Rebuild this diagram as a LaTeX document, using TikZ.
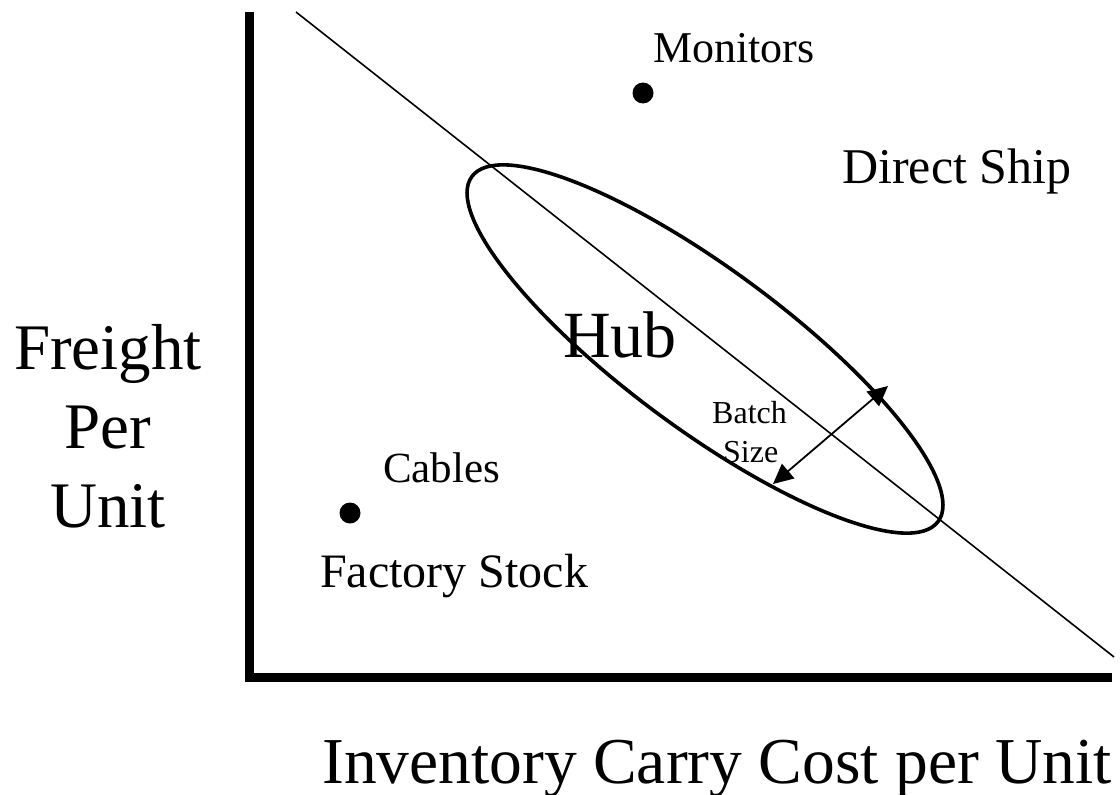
\documentclass[tikz,border=0pt]{standalone}
\usepackage{fontspec}
\setmainfont{Liberation Serif}
\usetikzlibrary{arrows.meta}
\begin{document}
\begin{tikzpicture}[x=1pt,y=-1pt,
  lbl/.style={inner sep=0pt, anchor=base west},
  axisline/.style={line width=9pt, line join=miter, line cap=butt},
  dot/.style={circle, fill=black, inner sep=0pt, minimum size=21pt},
  fs/.style={font=\fontsize{#1}{#1}\selectfont}]
\useasboundingbox (0,0) rectangle (1120,795);
% axes
\coordinate (ytop) at (249,12);
\coordinate (origin) at (249,677);
\coordinate (xend) at (1112,677);
\draw[axisline] (ytop) -- (origin) -- (xend);
% diagonal
\coordinate (d1) at (296,12);
\coordinate (d2) at (1114,657);
\draw[line width=1.6pt] (d1) -- (d2);
% hub ellipse
\draw[line width=3.6pt, shift={(705,349)}, rotate=-36.5] (0,0) ellipse [x radius=290pt, y radius=80pt];
% batch size arrow
\coordinate (b1) at (888,386);
\coordinate (b2) at (773,484);
\draw[line width=1.8pt, {Triangle[length=20pt,width=19pt]}-{Triangle[length=20pt,width=19pt]}] (b1) -- (b2);
% dots
\node[dot] (mondot) at (643,93) {};
\node[dot] (cabdot) at (350,513) {};
% labels
\node[lbl, fs=44] (mon) at (653,62) {Monitors};
\node[lbl, fs=50] (ds) at (842,183) {Direct Ship};
\node[lbl, fs=66] (hub) at (563,357) {Hub};
\node[lbl, fs=32] (batch) at (712,423) {Batch};
\node[lbl, fs=32] (size) at (723,462) {Size};
\node[lbl, fs=43] (cab) at (383,482) {Cables};
\node[lbl, fs=48] (fac) at (320,587) {Factory Stock};
\node[inner sep=0pt, anchor=base, fs=65] (yl1) at (108,369) {Freight};
\node[inner sep=0pt, anchor=base, fs=65] (yl2) at (108,448) {Per};
\node[inner sep=0pt, anchor=base, fs=65] (yl3) at (108,527) {Unit};
\node[lbl, fs=65.5] (xl) at (322,783) {Inventory Carry Cost per Unit};
\end{tikzpicture}
\end{document}
